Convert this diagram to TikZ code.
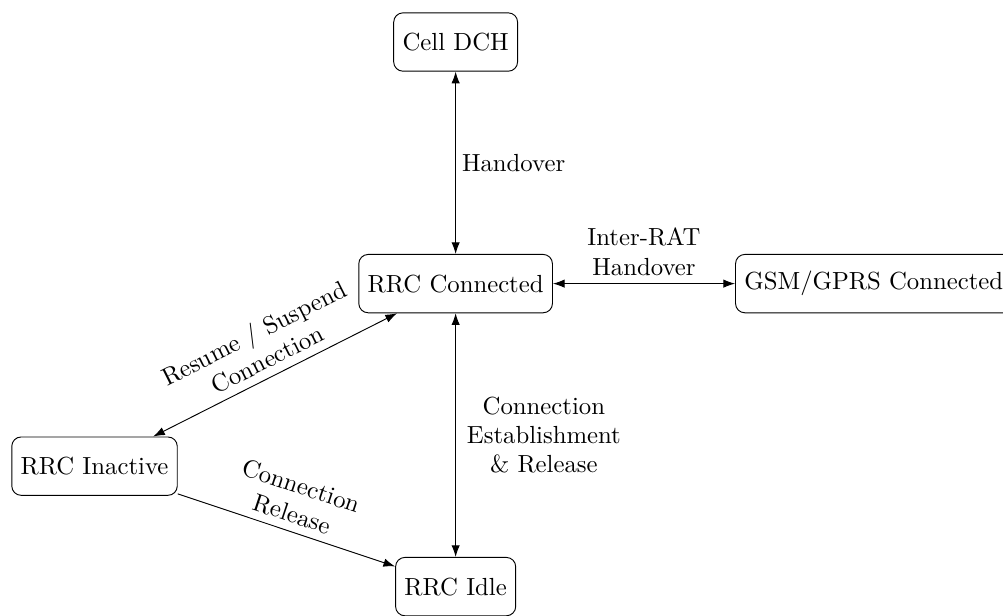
\documentclass[tikz,border=0pt]{standalone}
\usetikzlibrary{arrows.meta}
\begin{document}
\begin{tikzpicture}[x=1pt,y=1pt,
  every node/.style={font=\fontsize{10.6}{12.6}\selectfont},
  state/.style={draw, rounded corners=4pt, minimum height=25pt, inner sep=3.8pt},
  conn/.style={{Latex[length=5pt,width=3.6pt]}-{Latex[length=5pt,width=3.6pt]}},
  oneway/.style={-{Latex[length=5pt,width=3.6pt]}},
  lbl/.style={align=center, inner sep=3.33pt}]
\useasboundingbox (0,0) rectangle (429.7,-263.5);
\node[state] (dch) at (195.2,-18.0) {Cell DCH};
\node[state] (con) at (195.2,-121.5) {RRC Connected};
\node[state, anchor=west] (gsm) at (314.9,-121.5) {GSM/GPRS Connected};
\node[state] (ina) at (40.5,-199.7) {RRC Inactive};
\node[state] (idl) at (195.2,-251.3) {RRC Idle};
\draw[conn] (dch) -- node[lbl, right, xshift=-0.8pt] (lho) {Handover} (con);
\draw[conn] (con) -- node[lbl, above] (lirat) {Inter-RAT\\Handover} (gsm);
\draw[conn] (con) -- node[lbl, above, sloped] (lres) {Resume / Suspend\\Connection} (ina);
\draw[conn] (con) -- node[lbl, right, xshift=1.3pt] (lest) {Connection\\Establishment\\\& Release} (idl);
\draw[oneway] (ina) -- node[lbl, above, sloped] (lrel) {Connection\\Release} (idl);
\end{tikzpicture}
\end{document}
